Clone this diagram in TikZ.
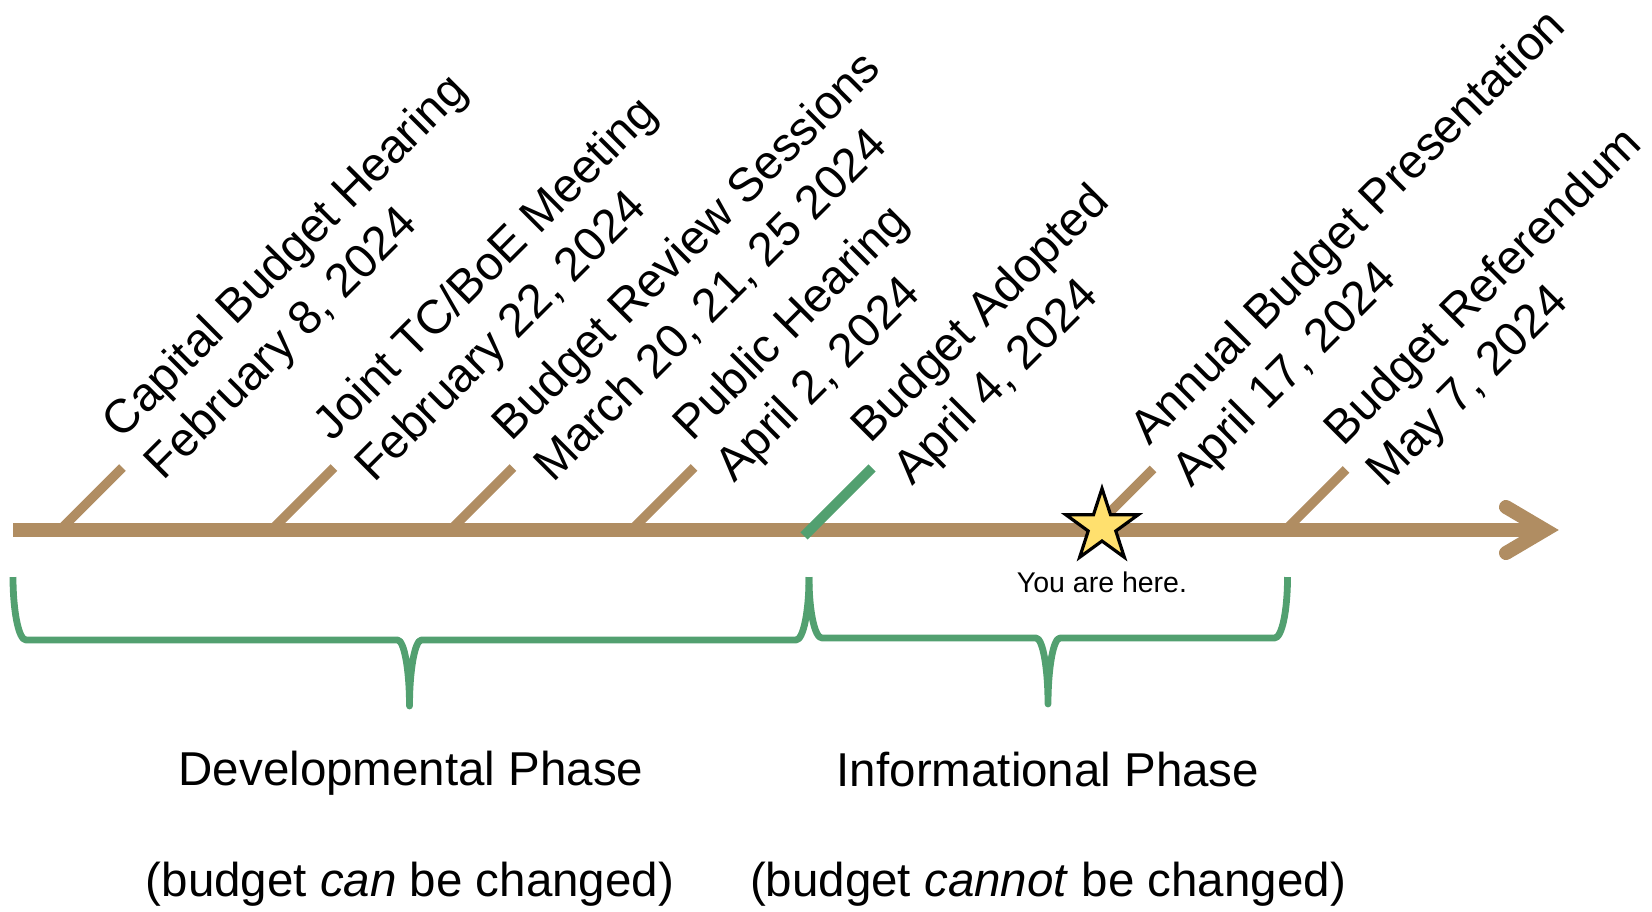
\documentclass[tikz,border=0pt]{standalone}
\usepackage{fontspec}
\setmainfont{Liberation Sans}
\usetikzlibrary{calc,shapes.geometric}
\definecolor{axiscol}{RGB}{176,141,98}
\definecolor{phasegreen}{RGB}{82,160,112}
\definecolor{staryellow}{RGB}{255,224,110}
\begin{document}
\begin{tikzpicture}[x=0.5pt,y=0.5pt,
  lbl/.style={font=\fontsize{23.75pt}{29pt}\selectfont, rotate=45, anchor=base west, inner sep=0pt},
  phase/.style={font=\fontsize{23.75pt}{29pt}\selectfont, anchor=base, inner sep=0pt},
  axisline/.style={draw=axiscol, line width=7pt},
  tickline/.style={draw=axiscol, line width=4.7pt},
  greentick/.style={draw=phasegreen, line width=5pt},
  brace/.style={draw=phasegreen, line width=3.4pt, line join=round},
  starmark/.style={star, star points=5, star point ratio=2.618, minimum size=38pt, inner sep=0pt, draw=black, line width=1.6pt, fill=staryellow}
]
\useasboundingbox (0,0) rectangle (1652,-911);

% tick tops
\coordinate (k1) at (122.5,-467.5);
\coordinate (k2) at (334,-467.5);
\coordinate (k3) at (513,-467.5);
\coordinate (k4) at (694,-467.5);
\coordinate (k5) at (872,-468);
\coordinate (k6) at (1153,-469);
\coordinate (k7) at (1346,-469.5);
% tick bottoms on the axis
\coordinate (a1) at ($(k1)+(-62.5,-62.5)$);
\coordinate (a2) at ($(k2)+(-62.5,-62.5)$);
\coordinate (a3) at ($(k3)+(-62.5,-62.5)$);
\coordinate (a4) at ($(k4)+(-62.5,-62.5)$);
\coordinate (a5) at ($(k5)+(-68,-68)$);
\coordinate (a6) at ($(k6)+(-61,-61)$);
\coordinate (a7) at ($(k7)+(-60.5,-60.5)$);
% axis
\coordinate (axL) at (13,-530);
\coordinate (axR) at (1545,-530);

% tan ticks
\foreach \i in {1,2,3,4,6,7} \draw[tickline] (a\i) -- (k\i);
% axis and arrow head
\draw[axisline] (axL) -- ($(axR)+(-5,0)$);
\draw[axisline, line cap=round, line join=miter] ($(axR)+(-39,23)$) -- (axR) -- ($(axR)+(-39,-23)$);
% green tick
\draw[greentick] (a5) -- (k5);

% star
\node[starmark] (star) at (1102,-526.5) {};
\node[font=\fontsize{14.25pt}{17pt}\selectfont, anchor=base, inner sep=0pt] (here) at (1102,-592.7) {You are here.};

% labels
\node[lbl] (t1) at ($(k1)+(-1,27)$) {Capital Budget Hearing};
\node[lbl] (d1) at ($(t1.base west)+(-45:59)$) {February 8, 2024};
\node[lbl] (t2) at ($(k2)+(-2,25)$) {Joint TC/BoE Meeting};
\node[lbl] (d2) at ($(t2.base west)+(-45:59)$) {February 22, 2024};
\node[lbl] (t3) at ($(k3)+(-2,25)$) {Budget Review Sessions};
\node[lbl] (d3) at ($(t3.base west)+(-45:59)$) {March 20, 21, 25 2024};
\node[lbl] (t4) at ($(k4)+(-2,25)$) {Public Hearing};
\node[lbl] (d4) at ($(t4.base west)+(-45:59)$) {April 2, 2024};
\node[lbl] (t5) at ($(k5)+(-2,23)$) {Budget Adopted};
\node[lbl] (d5) at ($(t5.base west)+(-45:59)$) {April 4, 2024};
\node[lbl] (t6) at ($(k6)+(-4,22)$) {Annual Budget Presentation};
\node[lbl] (d6) at ($(t6.base west)+(-45:59)$) {April 17, 2024};
\node[lbl] (t7) at ($(k7)+(-3,22)$) {Budget Referendum};
\node[lbl] (d7) at ($(t7.base west)+(-45:59)$) {May 7, 2024};

% braces
\coordinate (b1L) at (13,-577);
\coordinate (b1M) at (409.5,-706);
\coordinate (bMid) at (809,-577);
\coordinate (b2M) at (1048,-704);
\coordinate (b2R) at (1287.5,-577);
\draw[brace] (b1L) .. controls (13,-611.8) and (18.8,-640) .. (26,-640)
  -- (397.5,-640) .. controls (404.1,-640) and (409.5,-669.6) .. (b1M)
  .. controls (409.5,-669.6) and (414.9,-640) .. (421.5,-640)
  -- (796,-640) .. controls (803.2,-640) and (809,-611.8) .. (bMid);
\draw[brace] (bMid) .. controls (809,-611.8) and (814.8,-638) .. (822,-638)
  -- (1036,-638) .. controls (1042.6,-638) and (1048,-667.6) .. (b2M)
  .. controls (1048,-667.6) and (1053.4,-638) .. (1060,-638)
  -- (1274.5,-638) .. controls (1281.7,-638) and (1287.5,-611.8) .. (b2R);

% phase texts
\node[phase] (dev) at (411,-785) {Developmental Phase};
\node[phase] (devnote) at (410,-896) {(budget \textit{can} be changed)};
\node[phase] (inf) at (1048,-786) {Informational Phase};
\node[phase] (infnote) at (1048,-896) {(budget \textit{cannot} be changed)};
\end{tikzpicture}
\end{document}
